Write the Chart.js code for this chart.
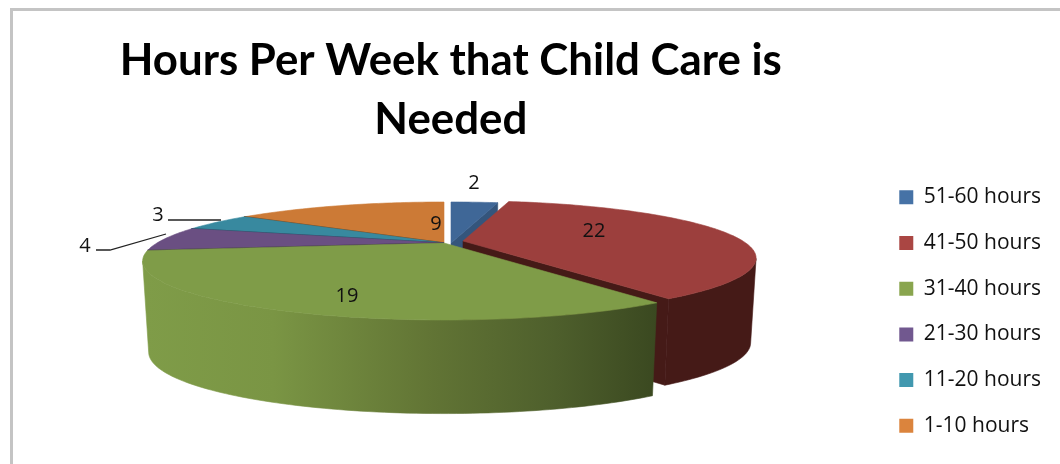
<!DOCTYPE html>
<html><head><meta charset="utf-8">
<style>
html,body{margin:0;padding:0;background:#fff;overflow:hidden}
#frame{position:absolute;left:10px;top:8px;width:1060px;height:470px;border-left:3px solid #c4c4c4;border-top:3px solid #c4c4c4}
#c{position:absolute;left:0;top:0}
</style>
<script src="https://cdn.jsdelivr.net/npm/chart.js@4"></script>
</head><body>
<div id="frame"></div>
<canvas id="c" width="1060" height="464"></canvas>
<script>
const categories = ["51-60 hours","41-50 hours","31-40 hours","21-30 hours","11-20 hours","1-10 hours"];
const values = [2,22,19,4,3,9];
const legendColors = ["#4672a6","#aa4643","#89a54e","#71588f","#4198af","#db843d"];
const topColors = ["#3f6797","#9c3f3d","#7f9c48","#6a4f82","#38899f","#cc7a36"];
const wallColors = ["#34557c","#451a17",null,"#3f2a55","#22566a","#7c4a20"];
const titleLines = ["Hours Per Week that Child Care is","Needed"];
const FONT = '"Open Sans", sans-serif';

// perspective projection of the unit pie disc
const G = {cx:444, cy:243, a:287, b:53.5, m:0.305, depth:90, narrow:0.02};
const shifts = [[7,0],[19,-2],[0,0],[0,0],[0,0],[0,0]];
const radii = [1,0.975,1,1,1,1];
const depths = [1,0.93,1,1,1,1];
const paintOrder = [0,1,5,4,3,2];
const labelPos = [[474,183],[594,231],[347,296],[85,246],[158,215],[436,224]];
const leaders = {3:[[96,250],[110,250],[166,234]],4:[[168,220],[221,220]]};

function proj(theta,r,z,s){
  const u=r*Math.sin(theta), v=-r*Math.cos(theta), w=1-G.m*v;
  const k=1-G.narrow*z;
  return [G.cx+s[0]+G.a*u/w*k, G.cy+s[1]+G.b*v/w+G.depth*z*(1+0.04*v)];
}
function rim(t0,t1){const n=Math.max(2,Math.ceil(Math.abs(t1-t0)/0.02)),o=[];for(let i=0;i<=n;i++)o.push(t0+(t1-t0)*i/n);return o;}
function poly(ctx,pts,fill){ctx.beginPath();pts.forEach((p,i)=>i?ctx.lineTo(p[0],p[1]):ctx.moveTo(p[0],p[1]));ctx.closePath();ctx.fillStyle=fill;ctx.fill();ctx.strokeStyle=fill;ctx.lineWidth=0.6;ctx.stroke();}

const pie3d={id:'pie3d',beforeDatasetsDraw(chart){
  const ctx=chart.ctx, arcs=chart.getDatasetMeta(0).data;
  const sideGrad=ctx.createLinearGradient(145,0,658,0);
  sideGrad.addColorStop(0,'#7f9c48');sideGrad.addColorStop(0.25,'#7a9544');sideGrad.addColorStop(0.55,'#627535');sideGrad.addColorStop(0.8,'#4e5f2c');sideGrad.addColorStop(1,'#3a4820');
  ctx.save();
  paintOrder.forEach(i=>{
    const el=arcs[i], t0=el.startAngle+Math.PI/2, t1=el.endAngle+Math.PI/2, s=shifts[i], r=radii[i], d=depths[i];
    const ts=rim(t0,t1), ringTop=ts.map(t=>proj(t,r,0,s));
    const side=i===2?sideGrad:wallColors[i];
    if(i<=2){
      if(i<2) poly(ctx,[proj(t1,0,0,s),proj(t1,r,0,s),proj(t1,r,d,s),proj(t1,0,d,s)],side);
      // outer wall: only the part of the rim that faces the viewer
      const front=ts.filter(t=>-Math.cos(t)>=G.m);
      if(front.length>1) poly(ctx,front.map(t=>proj(t,r,0,s)).concat(front.slice().reverse().map(t=>proj(t,r,d,s))),side);
    }
    poly(ctx,[proj(0,0,0,s)].concat(ringTop),topColors[i]);
    if(i>=3){
      ctx.beginPath();const a=proj(t0,0,0,s),b=proj(t0,1,0,s);ctx.moveTo(a[0],a[1]);ctx.lineTo(b[0],b[1]);
      ctx.strokeStyle=wallColors[i];ctx.lineWidth=1.5;ctx.stroke();
    }
  });
  ctx.strokeStyle='#222';ctx.lineWidth=1.3;
  Object.values(leaders).forEach(l=>{ctx.beginPath();l.forEach((p,i)=>i?ctx.lineTo(p[0],p[1]):ctx.moveTo(p[0],p[1]));ctx.stroke();});
  ctx.fillStyle='#111';ctx.font='20px '+FONT;ctx.textAlign='center';ctx.textBaseline='middle';
  values.forEach((v,i)=>ctx.fillText(String(v),labelPos[i][0],labelPos[i][1]));
  ctx.restore();
  return false;
}};

new Chart(document.getElementById('c'),{
  type:'pie',
  data:{labels:categories,datasets:[{data:values,backgroundColor:legendColors,borderWidth:0}]},
  options:{
    responsive:false,animation:false,
    layout:{padding:{left:27,top:0,right:9,bottom:3}},
    plugins:{
      tooltip:{enabled:false},
      title:{display:true,text:titleLines,fullSize:false,color:'#000',font:{family:'Lato, sans-serif',size:43.8,weight:'bold',lineHeight:1.36},padding:{top:31,bottom:0}},
      legend:{position:'right',fullSize:true,align:'end',onClick:null,
        labels:{boxWidth:14,boxHeight:14,padding:24.7,color:'#111',font:{family:FONT,size:21}}}
    }
  },
  plugins:[pie3d]
});
</script>
</body></html>
